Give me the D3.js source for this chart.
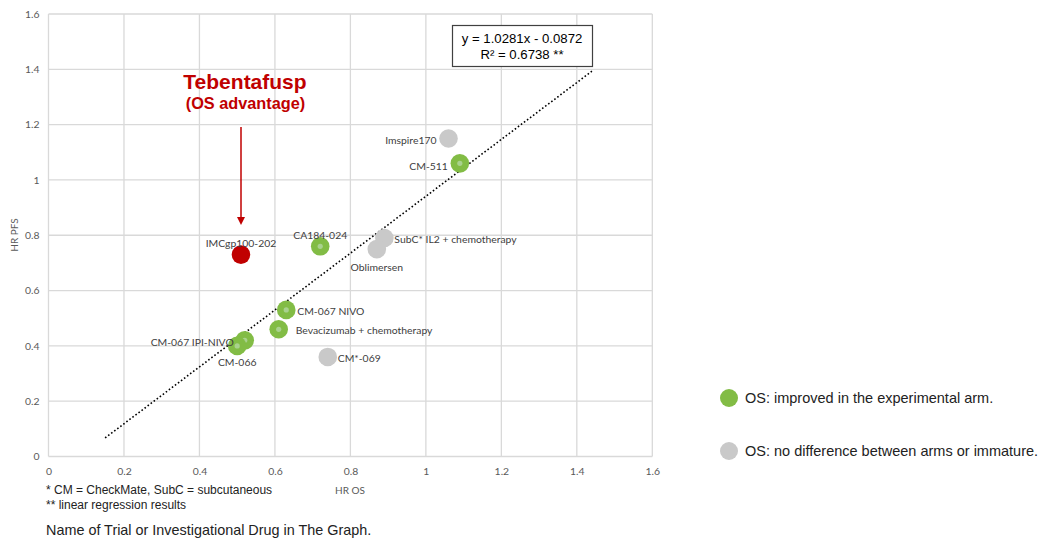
<!DOCTYPE html>
<html><head><meta charset="utf-8">
<script src="https://cdn.jsdelivr.net/npm/d3@7"></script>
<style>body{margin:0;background:#fff}svg{display:block}</style>
</head><body>
<script>
const trials = ["IMCgp100-202","CA184-024","Imspire170","CM-511","SubC* IL2 + chemotherapy","Oblimersen","CM-067 NIVO","Bevacizumab + chemotherapy","CM-067 IPI-NIVO","CM-066","CM*-069"];
const hrOS  = [0.51,0.72,1.06,1.09,0.89,0.87,0.63,0.61,0.52,0.50,0.74];
const hrPFS = [0.73,0.76,1.15,1.06,0.79,0.75,0.53,0.46,0.42,0.40,0.36];
const group = ["tebentafusp","improved","nodiff","improved","nodiff","nodiff","improved","improved","improved","improved","nodiff"];
// label placement: anchor and offset (dx, dy) relative to point
const labelPos = [["middle",0,-11],["middle",0,-11],["end",-12,2],["end",-12,3],["start",10,1],["middle",0,18],["start",11,2],["start",17,1],["end",-11,2],["middle",0,17],["start",10,2]];
const xTicks = [0,0.2,0.4,0.6,0.8,1,1.2,1.4,1.6];
const yTicks = [0,0.2,0.4,0.6,0.8,1,1.2,1.4,1.6];
const slope = 1.0281, intercept = -0.0872, trendX = [0.15,1.44];
const legendItems = [["improved","OS: improved in the experimental arm."],["nodiff","OS: no difference between arms or immature."]];
const colors = {tebentafusp:"#C00000", improved:"#82BC45", nodiff:"#C9C9C9"};

const W=1039,H=540;
const svg=d3.select("body").append("svg").attr("width",W).attr("height",H);
const x=d3.scaleLinear().domain([0,1.6]).range([48.5,652.3]);
const y=d3.scaleLinear().domain([0,1.6]).range([456.5,14]);
const tickFont="Lato, 'DejaVu Sans', sans-serif";

// grid
svg.append("g").selectAll("line.v").data(xTicks).join("line")
  .attr("x1",d=>x(d)).attr("x2",d=>x(d)).attr("y1",y(0)).attr("y2",y(1.6))
  .attr("stroke","#D9D9D9").attr("stroke-width",1.3);
svg.append("g").selectAll("line.h").data(yTicks).join("line")
  .attr("y1",d=>y(d)).attr("y2",d=>y(d)).attr("x1",x(0)).attr("x2",x(1.6))
  .attr("stroke","#D9D9D9").attr("stroke-width",1.3);

// axes (labels only)
const xa=svg.append("g").attr("transform",`translate(0,${y(0)})`)
  .call(d3.axisBottom(x).tickValues(xTicks).tickSize(0).tickPadding(11).tickFormat(d3.format("~g")));
xa.select(".domain").remove();
xa.selectAll("text").attr("font-family",tickFont).attr("font-size",10.4).attr("fill","#595959");
const ya=svg.append("g").attr("transform",`translate(${x(0)},0)`)
  .call(d3.axisLeft(y).tickValues(yTicks).tickSize(0).tickPadding(9).tickFormat(d3.format("~g")));
ya.select(".domain").remove();
ya.selectAll("text").attr("font-family",tickFont).attr("font-size",10.4).attr("fill","#595959");

svg.append("text").attr("x",350).attr("y",494).attr("text-anchor","middle")
  .attr("font-family",tickFont).attr("font-size",10).attr("fill","#595959").text("HR OS");
svg.append("text").attr("transform","translate(18,235) rotate(-90)").attr("text-anchor","middle")
  .attr("font-family",tickFont).attr("font-size",10).attr("fill","#595959").text("HR PFS");

// trendline
svg.append("line").attr("x1",x(trendX[0])).attr("y1",y(slope*trendX[0]+intercept))
  .attr("x2",x(trendX[1])).attr("y2",y(slope*trendX[1]+intercept))
  .attr("stroke","#000").attr("stroke-width",1.6).attr("stroke-dasharray","1.6,2.2");

// equation box
svg.append("rect").attr("x",452.5).attr("y",25.5).attr("width",140).attr("height",41)
  .attr("fill","#fff").attr("stroke","#404040").attr("stroke-width",1.2);
const eqFont="'Liberation Sans', Arial, sans-serif";
svg.append("text").attr("x",522).attr("y",43).attr("text-anchor","middle").attr("font-family",eqFont)
  .attr("font-size",13.2).attr("fill","#000").text("y = 1.0281x - 0.0872");
svg.append("text").attr("x",522).attr("y",59).attr("text-anchor","middle").attr("font-family",eqFont)
  .attr("font-size",13.2).attr("fill","#000").text("R² = 0.6738 **");

// annotation
svg.append("text").attr("x",245).attr("y",89).attr("text-anchor","middle").attr("font-family",eqFont)
  .attr("font-weight","bold").attr("font-size",21).attr("fill","#C00000").text("Tebentafusp");
svg.append("text").attr("x",245.5).attr("y",109).attr("text-anchor","middle").attr("font-family",eqFont)
  .attr("font-weight","bold").attr("font-size",16.3).attr("fill","#C00000").text("(OS advantage)");
svg.append("line").attr("x1",241).attr("x2",241).attr("y1",127).attr("y2",218)
  .attr("stroke","#C00000").attr("stroke-width",1.5);
svg.append("path").attr("d","M237,217 L245,217 L241,225 Z").attr("fill","#C00000");

// points
const idx=d3.range(trials.length);
const pts=svg.append("g");
// draw order: back-to-front
const order=[4,5,2,3,1,6,7,8,9,10,0];
order.forEach(i=>{
  pts.append("circle").attr("cx",x(hrOS[i])).attr("cy",y(hrPFS[i])).attr("r",9.3).attr("fill",colors[group[i]]);
  if(group[i]==="improved"){
    pts.append("circle").attr("cx",x(hrOS[i])).attr("cy",y(hrPFS[i])).attr("r",2.6).attr("fill","#A9D18E");
  }
});

// labels
svg.append("g").selectAll("text").data(idx).join("text")
  .attr("x",i=>x(hrOS[i])+labelPos[i][1]).attr("y",i=>y(hrPFS[i])+labelPos[i][2]+3.5)
  .attr("text-anchor",i=>labelPos[i][0]).attr("font-family",tickFont).attr("font-size",10.4)
  .attr("fill","#404040").text(i=>trials[i]);

// legend
const lg=svg.append("g");
legendItems.forEach((d,k)=>{
  const yy=398+k*53;
  lg.append("circle").attr("cx",729).attr("cy",yy).attr("r",9).attr("fill",colors[d[0]]);
  lg.append("text").attr("x",745).attr("y",yy+5).attr("font-family",eqFont).attr("font-size",14.5)
    .attr("fill","#222").text(d[1]);
});

// footnotes
svg.append("text").attr("x",46).attr("y",494).attr("font-family",eqFont).attr("font-size",12).attr("fill","#222")
  .text("* CM = CheckMate, SubC = subcutaneous");
svg.append("text").attr("x",46).attr("y",509).attr("font-family",eqFont).attr("font-size",12).attr("fill","#222")
  .text("** linear regression results");
svg.append("text").attr("x",46).attr("y",535).attr("font-family",eqFont).attr("font-size",14.4).attr("fill","#222")
  .text("Name of Trial or Investigational Drug in The Graph.");
</script>
</body></html>
